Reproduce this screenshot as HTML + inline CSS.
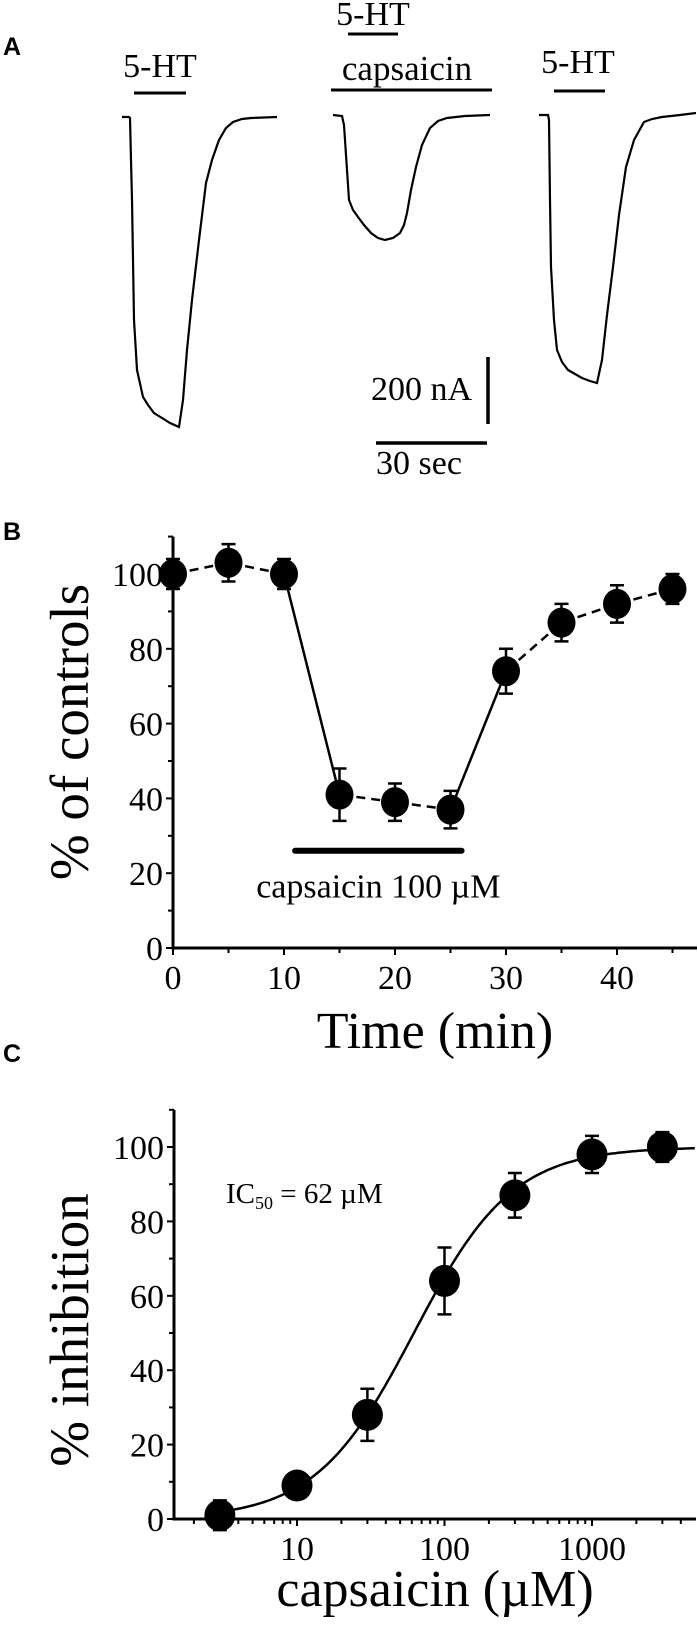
<!DOCTYPE html>
<html><head><meta charset="utf-8">
<style>
html,body{margin:0;padding:0;background:#fff;}
svg{display:block;}
text{font-family:"Liberation Serif",serif;fill:#000;}
.pl{font-family:"Liberation Sans",sans-serif;font-weight:bold;font-size:25px;}
</style></head>
<body>
<svg id="fig" width="698" height="1627" viewBox="0 0 698 1627" xmlns="http://www.w3.org/2000/svg">
<g id="panelA">
  <text class="pl" x="3" y="55">A</text>
  <text x="160" y="77" font-size="34" text-anchor="middle">5-HT</text>
  <line x1="134" y1="93" x2="186" y2="93" stroke="#000" stroke-width="3"/>
  <text x="373" y="25" font-size="34" text-anchor="middle">5-HT</text>
  <line x1="348" y1="34" x2="398" y2="34" stroke="#000" stroke-width="3"/>
  <text x="407" y="80" font-size="35" text-anchor="middle">capsaicin</text>
  <line x1="331" y1="90" x2="492" y2="90" stroke="#000" stroke-width="3"/>
  <text x="578" y="73" font-size="34" text-anchor="middle">5-HT</text>
  <line x1="554" y1="91" x2="605" y2="91" stroke="#000" stroke-width="3"/>
  <polyline fill="none" stroke="#000" stroke-width="2.2" points="122,117 129,117 130,118 131,160 132,200 134,320 137,370 143,397 148,405 154,413 162,418 170,423 179,427 183,400 187,350 192,300 199,240 206,183 212,160 219,140 226,128 233,122 242,119 251,118 277,117"/>
  <polyline fill="none" stroke="#000" stroke-width="2.2" points="333,115 342,116 344,125 347,170 349,200 353,210 358,217 364,225 371,233 378,238 385,240 393,238 400,233 404,225 407,213 411,190 416,167 422,145 430,128 438,121 447,118 465,116 490,115"/>
  <polyline fill="none" stroke="#000" stroke-width="2.2" points="539,115 548,115 549,120 550,200 551,267 554,320 557,350 562,362 568,370 575,374 582,378 590,381 597,383 602,360 607,315 613,267 619,215 626,167 634,140 644,122 652,119 662,117 680,115 696,113"/>
  <line x1="488" y1="357" x2="488" y2="424" stroke="#000" stroke-width="3.5"/>
  <text x="472" y="400" font-size="34" text-anchor="end">200 nA</text>
  <line x1="376" y1="443" x2="487" y2="443" stroke="#000" stroke-width="3.5"/>
  <text x="376" y="474" font-size="34">30 sec</text>
</g>
<g id="panelB"></g>
<g id="panelC"></g>
</svg>
<script>
// Panel B data
const bTimes = [0,5,10,15,20,25,30,35,40,45];
const bValues = [100,103,100,41,39,37,74,87,92,96];
const bErrors = [4,5,4,7,5,5,6,5,5,4];
const bSolidSegments = [2,5];
const bXTicks = [0,10,20,30,40];
const bYTicks = [0,20,40,60,80,100];
// Panel C data
const cConc = [3,10,30,100,300,1000,3000];
const cValues = [1,9,28,64,87,98,100];
const cErrors = [4,2,7,9,6,5,4];
const cXTicks = [10,100,1000];
const cYTicks = [0,20,40,60,80,100];
const cIC50 = [62];
const cHill = [1.3];

const NS = "http://www.w3.org/2000/svg";
function mk(parent, tag, attrs){
  const e = document.createElementNS(NS, tag);
  for (const k in attrs) e.setAttribute(k, attrs[k]);
  parent.appendChild(e);
  return e;
}
function txt(parent, x, y, s, size, anchor){
  const t = mk(parent, "text", {x:x, y:y, "font-size":size, "text-anchor":anchor||"middle"});
  t.textContent = s;
  return t;
}

// ---------- Panel B ----------
(function(){
  const g = document.getElementById("panelB");
  const X0 = 173, PX = 11.1, Y0 = 948, PY = 3.74;
  const xs = v => X0 + v*PX;
  const ys = v => Y0 - v*PY;
  const L = txt(g, 3, 540, "B", 25, "start");
  L.setAttribute("class","pl");
  
  
  const ax = mk(g, "path", {d:`M${X0},${ys(110)} V${Y0} H697`, fill:"none", stroke:"#000", "stroke-width":3});
  
  
  for (let v=0; v<=110; v+=10){
    const major = v%20===0;
    mk(g, "line", {x1:X0-(major?7:5), y1:ys(v), x2:X0, y2:ys(v), stroke:"#000", "stroke-width":2});
  }
  for (let v=5; v<=45; v+=5){
    const major = v%10===0;
    mk(g, "line", {x1:xs(v), y1:Y0, x2:xs(v), y2:Y0+(major?7:5), stroke:"#000", "stroke-width":2});
  }
  mk(g, "line", {x1:X0, y1:Y0, x2:X0, y2:Y0+7, stroke:"#000", "stroke-width":2});
  bYTicks.forEach(v=>{
    const t = txt(g, X0-10, ys(v)+12, String(v), 34, "end");
    
    
  });
  bXTicks.forEach(v=>{
    const t = txt(g, xs(v), 989, String(v), 34);
    
    
  });
  const xt = txt(g, 435, 1048, "Time (min)", 52);
  
  
  const yt = txt(g, 0, 0, "% of controls", 55);
  yt.setAttribute("transform", "translate(88,732) rotate(-90)");
  
  
  const bar = mk(g, "line", {x1:xs(11), y1:ys(26), x2:xs(26), y2:ys(26), stroke:"#000", "stroke-width":6, "stroke-linecap":"round"});
  
  
  const bl = txt(g, xs(18.5), ys(13.5), "capsaicin 100 \u00b5M", 34);
  
  
  for (let i=0; i<bTimes.length-1; i++){
    const solid = bSolidSegments.includes(i);
    const ln = mk(g, "line", {x1:xs(bTimes[i]), y1:ys(bValues[i]), x2:xs(bTimes[i+1]), y2:ys(bValues[i+1]), stroke:"#000", "stroke-width":2.5});
    if (!solid) ln.setAttribute("stroke-dasharray", "9,6");
    ln.setAttribute("stroke-dashoffset", "-17");
    
    
  }
  bTimes.forEach((t,i)=>{
    const x = xs(t), hi = ys(bValues[i]+bErrors[i]), lo = ys(bValues[i]-bErrors[i]);
    const eb = mk(g, "path", {d:`M${x},${hi} V${lo} M${x-7},${hi} H${x+7} M${x-7},${lo} H${x+7}`, stroke:"#000", "stroke-width":2.5, fill:"none"});
    
    
    const c = mk(g, "ellipse", {cx:x, cy:ys(bValues[i]), rx:14, ry:15, fill:"#000"});
    
    
  });
})();

// ---------- Panel C ----------
(function(){
  const g = document.getElementById("panelC");
  const DEC = 147.5, X10 = 297, Y0 = 1519, PY = 3.72;
  const xs = c => X10 + (Math.log10(c)-1)*DEC;
  const ys = v => Y0 - v*PY;
  const XL = 174, XR = 696;
  const L = txt(g, 3, 1062, "C", 25, "start");
  L.setAttribute("class","pl");
  
  
  const ax = mk(g, "path", {d:`M${XL},${ys(110)} V${Y0} H${XR}`, fill:"none", stroke:"#000", "stroke-width":3});
  
  
  for (let v=0; v<=110; v+=10){
    const major = v%20===0;
    mk(g, "line", {x1:XL-(major?7:5), y1:ys(v), x2:XL, y2:ys(v), stroke:"#000", "stroke-width":2});
  }
  for (let d=1; d<=1000; d*=10){
    for (let m=1; m<=9; m++){
      const c = d*m, x = xs(c);
      if (x < XL+3 || x > XR-2) continue;
      mk(g, "line", {x1:x, y1:Y0, x2:x, y2:Y0+(m===1?7:5), stroke:"#000", "stroke-width":2});
    }
  }
  cYTicks.forEach(v=>{
    const t = txt(g, XL-10, ys(v)+12, String(v), 34, "end");
    
    
  });
  cXTicks.forEach(v=>{
    const t = txt(g, xs(v), 1560, String(v), 34);
    
    
  });
  const xt = txt(g, 435, 1606, "capsaicin (\u00b5M)", 52);
  
  
  const yt = txt(g, 0, 0, "% inhibition", 55);
  yt.setAttribute("transform", "translate(88,1330) rotate(-90)");
  
  
  const ic = mk(g, "text", {x:226, y:1203, "font-size":29});
  ic.innerHTML = 'IC<tspan font-size="18" dy="6">50</tspan><tspan dy="-6"> = 62 \u00b5M</tspan>';
  
  
  let d = "";
  for (let lx=Math.log10(cConc[0]); lx<=Math.log10(5000); lx+=0.02){
    const c = Math.pow(10,lx);
    const y = 100/(1+Math.pow(cIC50[0]/c, cHill[0]));
    d += (d?"L":"M") + xs(c).toFixed(1) + "," + ys(y).toFixed(1);
  }
  const cv = mk(g, "path", {d:d, fill:"none", stroke:"#000", "stroke-width":2.5});
  
  
  cConc.forEach((c,i)=>{
    const x = xs(c), hi = ys(cValues[i]+cErrors[i]), lo = ys(cValues[i]-cErrors[i]);
    const eb = mk(g, "path", {d:`M${x},${hi} V${lo} M${x-7},${hi} H${x+7} M${x-7},${lo} H${x+7}`, stroke:"#000", "stroke-width":2.5, fill:"none"});
    
    
    const p = mk(g, "ellipse", {cx:x, cy:ys(cValues[i]), rx:15.5, ry:16, fill:"#000"});
    
    
  });
})();
</script>
</body></html>
